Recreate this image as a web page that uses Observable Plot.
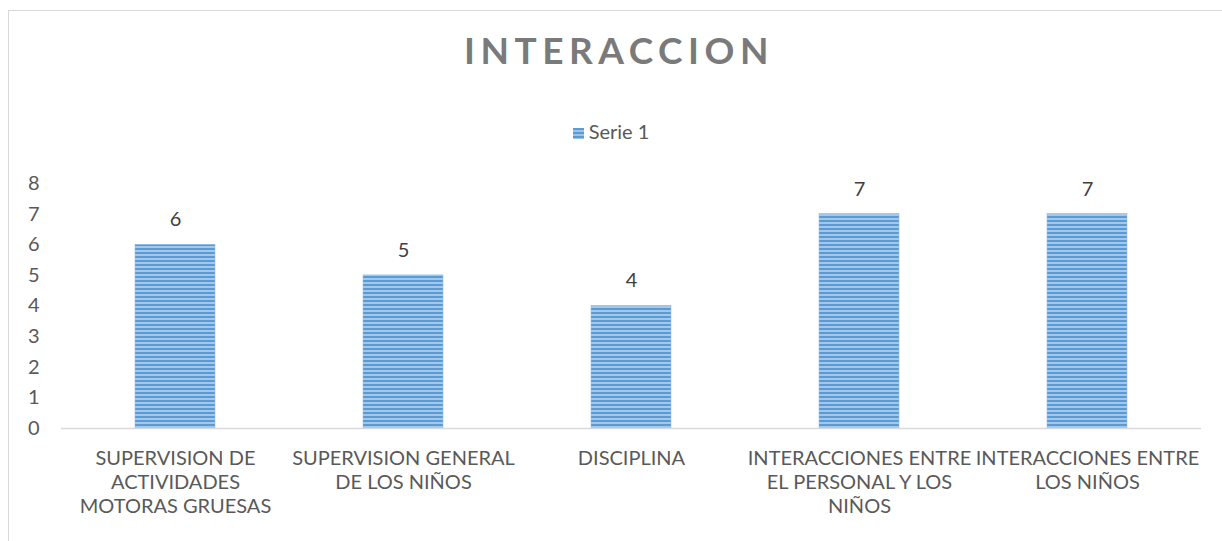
<!DOCTYPE html>
<html>
<head>
<meta charset="utf-8">
<script src="https://cdn.jsdelivr.net/npm/d3@7"></script>
<script src="https://cdn.jsdelivr.net/npm/@observablehq/plot@0.6"></script>
<style>
  html, body { margin: 0; padding: 0; background: #fff; }
  #wrap { position: relative; width: 1222px; height: 541px; overflow: hidden; font-family: Lato, "Open Sans", sans-serif; }
  #frame { position: absolute; left: 8px; top: 10px; width: 1300px; height: 700px; border: 1.5px solid #d9d9d9; box-sizing: border-box; }
  #title { position: absolute; left: 0; width: 1238px; top: 27px; text-align: center; font-size: 37px; font-weight: bold; letter-spacing: 5.5px; color: #7a7a7a; }
  #legend { position: absolute; left: 0; width: 1222px; top: 119px; text-align: center; font-size: 20px; color: #595959; }
  #legend .sw { display: inline-block; width: 11px; height: 11px; margin-right: 5px; vertical-align: 0px;
    background: repeating-linear-gradient(to bottom, #5b9bd5 0px, #5b9bd5 2px, #9dc3e6 2px, #9dc3e6 4px); }
  #chart { position: absolute; left: 0; top: 0; }
</style>
</head>
<body>
<div id="wrap">
  <div id="frame"></div>
  <div id="title">INTERACCION</div>
  <div id="legend"><span class="sw"></span>Serie 1</div>
  <div id="chart"></div>
</div>
<script>
const categories = [
  "SUPERVISION DE ACTIVIDADES MOTORAS GRUESAS",
  "SUPERVISION GENERAL DE LOS NIÑOS",
  "DISCIPLINA",
  "INTERACCIONES ENTRE EL PERSONAL Y LOS NIÑOS",
  "INTERACCIONES ENTRE LOS NIÑOS"
];
const tickLabels = [
  "SUPERVISION DE\nACTIVIDADES\nMOTORAS GRUESAS",
  "SUPERVISION GENERAL\nDE LOS NIÑOS",
  "DISCIPLINA",
  "INTERACCIONES ENTRE\nEL PERSONAL Y LOS\nNIÑOS",
  "INTERACCIONES ENTRE\nLOS NIÑOS"
];
const serie1 = [6, 5, 4, 7, 7];
const yTicks = [0, 1, 2, 3, 4, 5, 6, 7, 8];

const data = categories.map((c, i) => ({cat: c, value: serie1[i]}));
const labelOf = new Map(categories.map((c, i) => [c, tickLabels[i]]));

const svg = Plot.plot({
  width: 1222,
  height: 541,
  marginTop: 183,
  marginBottom: 113,
  marginLeft: 61,
  marginRight: 21,
  style: {fontFamily: "Lato, 'Open Sans', sans-serif", background: "transparent"},
  x: {domain: categories, paddingInner: 0.65, paddingOuter: 0.325, label: null},
  y: {domain: [0, 8], label: null},
  marks: [
    Plot.barY(data, {x: "cat", y: "value", fill: "url(#stripes)", stroke: "#8fbbe4", strokeWidth: 0.5}),
    Plot.ruleY([0], {stroke: "#d9d9d9", strokeWidth: 1.5}),
    Plot.text(data, {x: "cat", y: "value", text: d => String(d.value), dy: -25, fontSize: 20, fill: "#404040"}),
    Plot.axisY({ticks: yTicks, tickSize: 0, tickPadding: 22, fontSize: 20, color: "#595959", label: null}),
    Plot.axisX({tickSize: 0, tickPadding: 19, fontSize: 20, color: "#595959", lineHeight: 1.2, tickFormat: d => labelOf.get(d), label: null})
  ]
});

const defs = d3.select(svg).insert("defs", ":first-child");
const pat = defs.append("pattern").attr("id", "stripes").attr("patternUnits", "userSpaceOnUse")
  .attr("width", 8).attr("height", 4);
pat.append("rect").attr("width", 8).attr("height", 4).attr("fill", "#a3c8ea");
pat.append("rect").attr("width", 8).attr("height", 2).attr("fill", "#5b9bd5");

document.getElementById("chart").appendChild(svg);
</script>
</body>
</html>
